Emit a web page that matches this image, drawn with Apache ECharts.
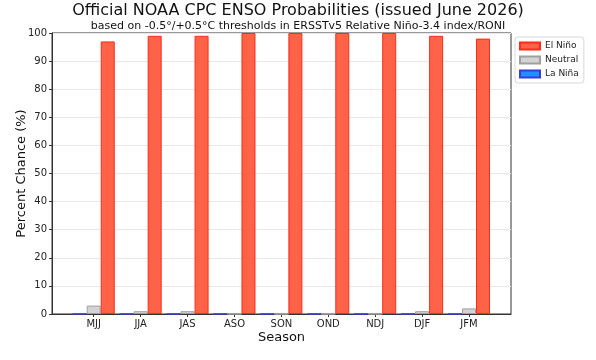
<!DOCTYPE html>
<html>
<head>
<meta charset="utf-8">
<script src="https://cdn.jsdelivr.net/npm/echarts@6/dist/echarts.min.js"></script>
<style>
  html, body { margin: 0; padding: 0; background: #fff; }
  #chart { width: 596px; height: 360px; }
</style>
</head>
<body>
<div id="chart"></div>
<script>
// Official CPC ENSO probabilities, three categories per season
const seasons = ["MJJ", "JJA", "JAS", "ASO", "SON", "OND", "NDJ", "DJF", "JFM"];
const elNino = [97, 99, 99, 100, 100, 100, 100, 99, 98];
const neutral = [3, 1, 1, 0, 0, 0, 0, 1, 2];
const laNina = [0, 0, 0, 0, 0, 0, 0, 0, 0];

const FONT = "DejaVu Sans";
const idx = seasons.map((_, i) => i);

// matplotlib-style x placement: numeric positions with ~5% margins around the bars
const bar = (name, values, fill, edge) => ({
  name,
  type: "bar",
  barWidth: 14,
  barGap: "0%",
  data: values.map((v, i) => [i, v]),
  itemStyle: { color: fill, borderColor: edge, borderWidth: 1 },
  emphasis: { disabled: true },
});

const chart = echarts.init(document.getElementById("chart"), null, { renderer: "canvas" });
chart.setOption({
  animation: false,
  backgroundColor: "#fff",
  textStyle: { fontFamily: FONT },
  title: {
    text: "Official NOAA CPC ENSO Probabilities (issued June 2026)",
    subtext: "based on -0.5°/+0.5°C thresholds in ERSSTv5 Relative Niño-3.4 index/RONI",
    left: "center",
    top: 3,
    itemGap: 2,
    padding: 0,
    textStyle: { fontFamily: FONT, fontSize: 16, fontWeight: "normal", color: "#111" },
    subtextStyle: { fontFamily: FONT, fontSize: 11, color: "#111" },
  },
  legend: {
    orient: "vertical",
    left: 515,
    top: 37,
    data: ["El Niño", "Neutral", "La Niña"],
    icon: "rect",
    itemWidth: 20,
    itemHeight: 7,
    itemGap: 4,
    padding: [4, 5, 4, 4],
    borderColor: "#d8d8d8",
    borderWidth: 1,
    borderRadius: 3,
    textStyle: { fontFamily: FONT, fontSize: 9, lineHeight: 10, color: "#222" },
  },
  grid: {
    left: 52, right: 85, top: 33, bottom: 46,
    outerBoundsMode: "none",
    show: true, borderColor: "#333", borderWidth: 1, backgroundColor: "#fff",
  },
  xAxis: {
    type: "value",
    min: -0.89,
    max: 8.895,
    name: "Season",
    nameLocation: "middle",
    nameGap: 17,
    nameMoveOverlap: false,
    nameTextStyle: { fontFamily: FONT, fontSize: 13, color: "#111" },
    axisLine: { show: true, onZero: false, lineStyle: { color: "#333" } },
    axisTick: { show: true, customValues: idx, length: 3, lineStyle: { color: "#333" } },
    axisLabel: {
      customValues: idx,
      formatter: (v) => seasons[Math.round(v)],
      fontFamily: FONT, fontSize: 10, color: "#222", margin: 5,
    },
    splitLine: { show: false },
  },
  yAxis: {
    type: "value",
    min: 0,
    max: 100,
    interval: 10,
    name: "Percent Chance (%)",
    nameLocation: "middle",
    nameGap: 24,
    nameMoveOverlap: false,
    nameTextStyle: { fontFamily: FONT, fontSize: 13, color: "#111" },
    axisLine: { show: true, onZero: false, lineStyle: { color: "#333" } },
    axisTick: { show: true, length: 3, lineStyle: { color: "#333" } },
    axisLabel: { fontFamily: FONT, fontSize: 10, color: "#222", margin: 5 },
    splitLine: { show: true, lineStyle: { color: "#e8e8e8", width: 1 } },
  },
  series: [
    bar("La Niña", laNina, "#1E90FF", "#3a3ad8"),
    bar("Neutral", neutral, "#D3D3D3", "#a0a0a0"),
    bar("El Niño", elNino, "#FF6347", "#FF2a1a"),
  ],
});
</script>
</body>
</html>
